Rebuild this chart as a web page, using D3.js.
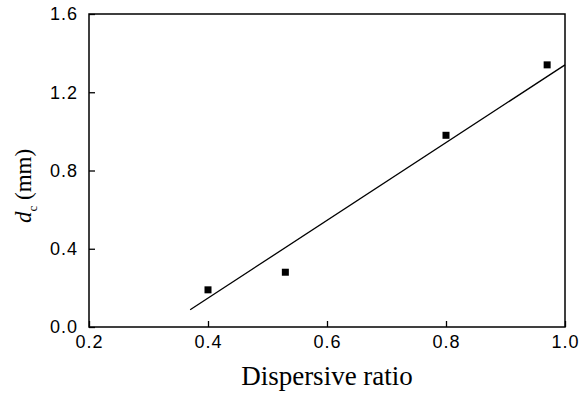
<!DOCTYPE html>
<html>
<head>
<meta charset="utf-8">
<script src="https://cdn.jsdelivr.net/npm/d3@7"></script>
<style>
  html, body { margin: 0; padding: 0; background: #fff; }
  svg { display: block; }
</style>
</head>
<body>
<svg id="chart"></svg>
<script>
// measured points
const ratio = [0.40, 0.53, 0.80, 0.97];
const dc = [0.19, 0.28, 0.98, 1.34];
// linear fit line, as drawn
const fitX = [0.37, 1.0];
const fitY = [0.088, 1.34];
const xTicks = [0.2, 0.4, 0.6, 0.8, 1.0];
const yTicks = [0.0, 0.4, 0.8, 1.2, 1.6];

const W = 587, H = 396;
const m = { top: 14, right: 22, bottom: 69, left: 89 };
const cW = W - m.left - m.right;
const cH = H - m.top - m.bottom;

const svg = d3.select('#chart').attr('width', W).attr('height', H);
svg.append('rect').attr('width', W).attr('height', H).attr('fill', '#fff');

const g = svg.append('g').attr('transform', `translate(${m.left},${m.top})`);

const x = d3.scaleLinear().domain([0.2, 1.0]).range([0, cW]);
const y = d3.scaleLinear().domain([0, 1.6]).range([cH, 0]);

const tickFont = g => g.selectAll('text')
  .style('font-family', '"Liberation Sans", Arial, sans-serif')
  .style('font-size', '18px').style('letter-spacing', '1px').attr('fill', '#000');

// bottom axis, ticks inward
g.append('g').attr('transform', `translate(0,${cH})`)
  .call(d3.axisBottom(x).tickValues(xTicks).tickFormat(d3.format('.1f'))
    .tickSizeInner(-6).tickSizeOuter(0).tickPadding(8))
  .call(tickFont)
  .call(a => a.select('.domain').remove())
  .call(a => a.selectAll('.tick line').attr('stroke', '#000').attr('stroke-width', 1.3));

// left axis, ticks inward
g.append('g')
  .call(d3.axisLeft(y).tickValues(yTicks).tickFormat(d3.format('.1f'))
    .tickSizeInner(-6).tickSizeOuter(0).tickPadding(11))
  .call(tickFont)
  .call(a => a.select('.domain').remove())
  .call(a => a.selectAll('.tick line').attr('stroke', '#000').attr('stroke-width', 1.3));

// frame
g.append('rect').attr('x', 0).attr('y', 0).attr('width', cW).attr('height', cH)
  .attr('fill', 'none').attr('stroke', '#000').attr('stroke-width', 1.5);

// fit line
const fit = fitX.map((v, i) => ({ x: v, y: fitY[i] }));
g.append('path').datum(fit)
  .attr('fill', 'none').attr('stroke', '#000').attr('stroke-width', 1.3)
  .attr('d', d3.line().x(d => x(d.x)).y(d => y(d.y)));

// points
const pts = ratio.map((v, i) => ({ x: v, y: dc[i] }));
const s = 7;
g.selectAll('rect.pt').data(pts).enter().append('rect').attr('class', 'pt')
  .attr('x', d => x(d.x) - s / 2).attr('y', d => y(d.y) - s / 2)
  .attr('width', s).attr('height', s).attr('fill', '#000');

// axis titles
svg.append('text')
  .attr('x', m.left + cW / 2).attr('y', 385)
  .attr('text-anchor', 'middle')
  .style('font-family', '"Liberation Serif", "Times New Roman", serif')
  .style('font-size', '27px')
  .text('Dispersive ratio');

const yt = svg.append('text')
  .attr('transform', 'translate(31,186) rotate(-90)')
  .attr('text-anchor', 'middle')
  .style('font-family', '"Liberation Serif", "Times New Roman", serif')
  .style('font-size', '23px');
yt.append('tspan').style('font-style', 'italic').text('d');
yt.append('tspan').attr('dy', 6).style('font-size', '13px').text('c');
yt.append('tspan').attr('dy', -6).text(' (mm)');
</script>
</body>
</html>
